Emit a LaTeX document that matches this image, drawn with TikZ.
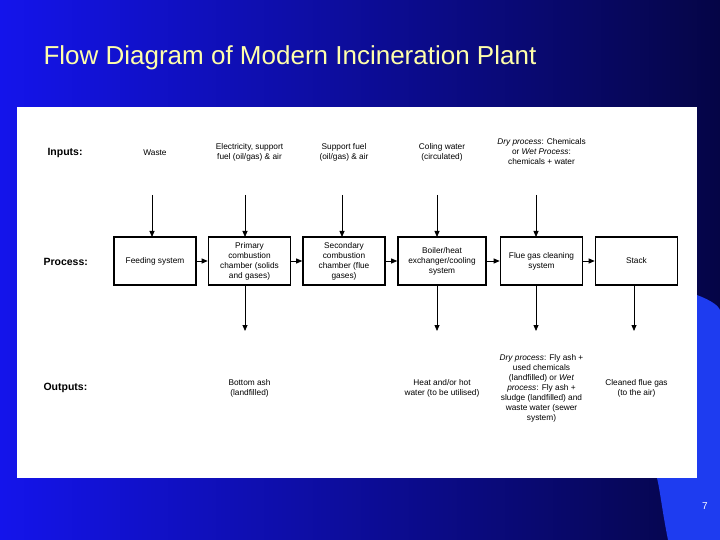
\documentclass[tikz,border=0pt]{standalone}
\usepackage{fontspec}
\setmainfont{Liberation Sans}
\usetikzlibrary{arrows.meta}
\definecolor{bgl}{RGB}{20,20,235}
\definecolor{bgr}{RGB}{5,5,70}
\definecolor{swoosh}{RGB}{30,60,240}
\definecolor{ttl}{RGB}{255,255,170}
\begin{document}
\begin{tikzpicture}[x=1pt,y=-1pt,
 box/.style={draw,line width=1.6pt,minimum width=82pt,minimum height=48pt,align=center,font=\fontsize{8.3}{10}\selectfont,inner sep=1pt},
 lbl/.style={align=center,font=\fontsize{8.3}{10}\selectfont},
 row/.style={font=\bfseries\fontsize{10.5}{12}\selectfont,anchor=west},
 arr/.style={-{Triangle[length=6pt,width=5pt]},line width=0.8pt}]
\useasboundingbox (0,0) rectangle (720,540);
\shade[left color=bgl,right color=bgr] (0,0) rectangle (720,540);
\fill[swoosh] (697,295) .. controls (710,300) and (718,305) .. (720,310) -- (720,540) -- (668,540) .. controls (662,510) and (660,490) .. (657,478) -- (697,478) -- cycle;
\node[anchor=west,text=ttl,font=\fontsize{26}{30}\selectfont] (title) at (40,58) {Flow Diagram of Modern Incineration Plant};
\node[text=white,font=\fontsize{10}{12}\selectfont] (pg) at (705,506) {7};
\fill[white] (17,107) rectangle (697,478);
\node[row] (ri) at (44,153) {Inputs:};
\node[row] (rp) at (40,262) {Process:};
\node[row] (ro) at (40,388) {Outputs:};
\node[box] (b1) at (155,261) {Feeding system};
\node[box] (b2) at (249.5,261) {Primary\\combustion\\chamber (solids\\and gases)};
\node[box] (b3) at (344,261) {Secondary\\combustion\\chamber (flue\\gases)};
\node[box,minimum width=88pt] (b4) at (442,261) {Boiler/heat\\exchanger/cooling\\system};
\node[box] (b5) at (541.5,261) {Flue gas cleaning\\system};
\node[box] (b6) at (636.5,261) {Stack};
\foreach \a/\b in {b1/b2,b2/b3,b3/b4,b4/b5,b5/b6}\draw[arr] (\a) -- (\b);
\node[lbl] (i1) at (155,153) {Waste};
\node[lbl] (i2) at (249.5,152) {Electricity, support\\fuel (oil/gas) \& air};
\node[lbl] (i3) at (344,152) {Support fuel\\(oil/gas) \& air};
\node[lbl] (i4) at (442,152) {Coling water\\(circulated)};
\node[lbl] (i5) at (541.5,152) {\textit{Dry process}: Chemicals\\or \textit{Wet Process}:\\chemicals + water};
\foreach \n/\x in {1/152,2/245,3/342,4/437,5/536}{
 \coordinate (s\n) at (\x,195);
 \draw[arr] (s\n) -- (\x,237);}
\node[lbl] (o2) at (249.5,388) {Bottom ash\\(landfilled)};
\node[lbl] (o4) at (442,388) {Heat and/or hot\\water (to be utilised)};
\node[lbl] (o5) at (541.5,388) {\textit{Dry process}: Fly ash +\\used chemicals\\(landfilled) or \textit{Wet}\\\textit{process}: Fly ash +\\sludge (landfilled) and\\waste water (sewer\\system)};
\node[lbl] (o6) at (636.5,388) {Cleaned flue gas\\(to the air)};
\foreach \n/\x in {2/245,4/437,5/536,6/634}{
 \coordinate (e\n) at (\x,331);
 \draw[arr] (\x,285) -- (e\n);}
\end{tikzpicture}
\end{document}
